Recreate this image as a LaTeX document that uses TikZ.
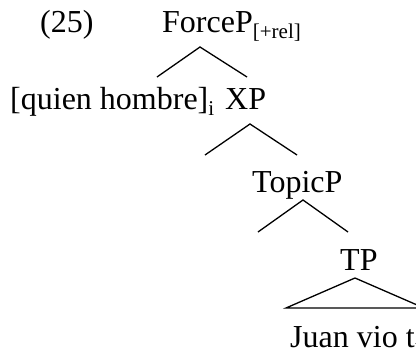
\documentclass[tikz,border=0pt]{standalone}
\usepackage{fontspec}
\setmainfont{Liberation Serif}
\newcommand{\lowsub}[1]{\raisebox{-6pt}{\fontsize{21}{21}\selectfont #1}}
\begin{document}
\begin{tikzpicture}[x=1pt,y=-1pt,
  lab/.style={inner sep=0pt,anchor=base west,font=\fontsize{32}{38}\selectfont},
  branch/.style={line width=1.3pt,line join=miter}]
\useasboundingbox (0,0) rectangle (416,351);
\clip (0,0) rectangle (416,351);
% labels
\node[lab] (ex) at (40,32) {(25)};
\node[lab] (force) at (162,32) {ForceP\lowsub{[+rel]}};
\node[lab] (wh) at (10,109) {[quien hombre]\lowsub{i}};
\node[lab] (xp) at (225,109) {XP};
\node[lab] (topic) at (252,192) {TopicP};
\node[lab] (tp) at (340,270) {TP};
\node[lab] (juan) at (290,347) {Juan vio t\lowsub{i}};
% branch points
\coordinate (fa) at (200,47);  \coordinate (fl) at (157,77);  \coordinate (fr) at (247,77);
\coordinate (xa) at (250,124); \coordinate (xl) at (205,155); \coordinate (xr) at (297,155);
\coordinate (ta) at (303,200); \coordinate (tl) at (258,232); \coordinate (tr) at (348,232);
\coordinate (pa) at (355,278); \coordinate (pl) at (286,308); \coordinate (pr) at (424,308);
% branches
\draw[branch] (fl) -- (fa) -- (fr);
\draw[branch] (xl) -- (xa) -- (xr);
\draw[branch] (tl) -- (ta) -- (tr);
\draw[branch] (pr) -- (pa) -- (pl) -- (pr);
\end{tikzpicture}
\end{document}
